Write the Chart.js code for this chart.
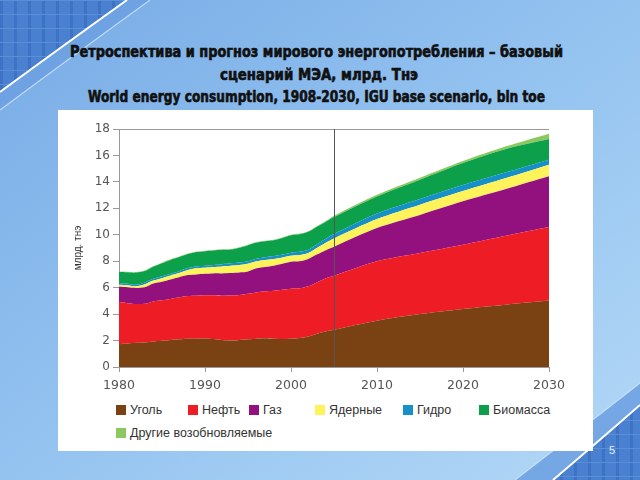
<!DOCTYPE html>
<html>
<head>
<meta charset="utf-8">
<script src="https://cdn.jsdelivr.net/npm/chart.js@4/dist/chart.umd.min.js"></script>
<style>
  html, body { margin:0; padding:0; width:640px; height:480px; overflow:hidden; }
  body { position:relative; font-family:"Liberation Sans", Arial, sans-serif; }
  #bg { position:absolute; left:0; top:0; }
  .t { position:absolute; white-space:nowrap; font-family:"DejaVu Sans Condensed","DejaVu Sans",sans-serif; font-weight:bold;
       font-size:15px; color:#111; -webkit-text-stroke:0.6px #111; line-height:16px; transform-origin:0 50%; }
  #panel { position:absolute; left:58px; top:110px; width:535px; height:341px; background:#fff; }
  #c { position:absolute; left:0; top:0; }
  .lg { position:absolute; font-size:12.5px; color:#333; white-space:nowrap; line-height:14px; }
  .lg i { display:inline-block; width:10px; height:10px; vertical-align:-1px; margin-right:4px; }
  #pg { position:absolute; left:609px; top:444px; color:#e8f0ff; font-size:11px; font-family:"Liberation Sans",Arial,sans-serif; }
</style>
</head>
<body>
<svg id="bg" width="640" height="480" xmlns="http://www.w3.org/2000/svg">
  <defs>
    <linearGradient id="g" x1="0" y1="0" x2="1" y2="1">
      <stop offset="0" stop-color="#78abe6"/>
      <stop offset="0.5" stop-color="#94c3f0"/>
      <stop offset="1" stop-color="#b3d8f6"/>
    </linearGradient>
    <pattern id="grid" width="14" height="14" patternUnits="userSpaceOnUse">
      <rect width="14" height="14" fill="#4a80d0"/>
      <rect x="0" y="0" width="3" height="14" fill="#3d72c4"/>
      <rect x="0" y="0" width="14" height="1" fill="#5a8fd8"/>
    </pattern>
  </defs>
  <rect width="640" height="480" fill="url(#g)"/>
  <path d="M0,0 L150,0 Q70,58 0,110 Z" fill="#6a9fe0" opacity="0.8"/>
  <path d="M0,0 L127,0 Q60,48 0,92 Z" fill="url(#grid)"/>
  <path d="M127,0 Q60,48 0,92" stroke="#ffffff" stroke-width="2" fill="none"/>
  <path d="M150,0 Q70,58 0,110" stroke="#cfe6fb" stroke-width="1.2" fill="none" opacity="0.8"/>
  <path d="M515,480 Q580,430 640,383 L640,480 Z" fill="#6a9fe0" opacity="0.85"/>
  <path d="M553,480 Q600,440 640,405 L640,480 Z" fill="url(#grid)"/>
  <path d="M553,480 Q600,440 640,405" stroke="#ffffff" stroke-width="2" fill="none"/>
  <path d="M515,480 Q580,430 640,383" stroke="#cfe6fb" stroke-width="1.2" fill="none" opacity="0.8"/>
</svg>

<div class="t" id="t1" style="top:44px;">Ретроспектива и прогноз мирового энергопотребления – базовый</div>
<div class="t" id="t2" style="top:67px;">сценарий МЭА, млрд. Тнэ</div>
<div class="t" id="t3" style="top:89px;">World energy consumption, 1908-2030, IGU base scenario, bln toe</div>

<div id="panel"><canvas id="c" width="535" height="290"></canvas></div>
<div id="legend"></div>
<div id="pg">5</div>

<script>
// ---- data (bln toe, individual layers, stacked) ----
const years = [1980,1981,1982,1983,1984,1985,1986,1987,1988,1989,1990,1991,1992,1993,1994,1995,1996,1997,1998,1999,2000,2001,2002,2003,2004,2005,2010,2015,2020,2025,2030];
const coal    = [1.73,1.78,1.83,1.86,1.93,1.98,2.04,2.09,2.14,2.14,2.16,2.11,2.04,2.00,2.05,2.09,2.14,2.17,2.14,2.12,2.14,2.19,2.31,2.52,2.69,2.82,3.50,4.00,4.39,4.71,5.02];
const oil     = [3.18,3.05,2.93,2.92,3.03,3.06,3.10,3.18,3.23,3.25,3.26,3.31,3.35,3.40,3.40,3.45,3.50,3.55,3.63,3.73,3.78,3.76,3.79,3.88,4.01,4.08,4.49,4.62,4.86,5.22,5.57];
const gas     = [1.15,1.20,1.22,1.25,1.35,1.40,1.48,1.52,1.58,1.61,1.63,1.66,1.69,1.70,1.70,1.69,1.82,1.84,1.89,1.96,2.04,2.04,2.07,2.10,2.12,2.20,2.52,2.88,3.28,3.53,3.83];
const nuclear = [0.17,0.15,0.12,0.23,0.23,0.28,0.30,0.31,0.38,0.46,0.45,0.48,0.53,0.56,0.57,0.58,0.53,0.53,0.51,0.48,0.46,0.48,0.45,0.50,0.56,0.62,0.68,0.78,0.78,0.83,0.88];
const hydro   = [0.12,0.12,0.12,0.13,0.13,0.14,0.14,0.15,0.15,0.15,0.16,0.16,0.17,0.18,0.18,0.19,0.20,0.21,0.22,0.22,0.23,0.24,0.25,0.27,0.30,0.33,0.41,0.42,0.45,0.43,0.38];
const biomass = [0.86,0.86,0.92,0.87,0.92,0.99,1.04,1.06,1.06,1.08,1.10,1.09,1.08,1.04,1.11,1.21,1.22,1.21,1.20,1.25,1.31,1.33,1.35,1.33,1.29,1.29,1.30,1.47,1.67,1.77,1.56];
const otherRen= [0.04,0.04,0.04,0.04,0.04,0.04,0.04,0.04,0.04,0.04,0.04,0.04,0.04,0.04,0.04,0.04,0.04,0.04,0.04,0.04,0.05,0.05,0.05,0.05,0.05,0.10,0.13,0.15,0.15,0.20,0.41];

const seriesNames = ["Уголь","Нефть","Газ","Ядерные","Гидро","Биомасса","Другие возобновляемые"];
const seriesColors = ["#7a4113","#ee1c25","#93117e","#fff35b","#1590c8","#0ca04a","#8cc860"];
const seriesData = [coal, oil, gas, nuclear, hydro, biomass, otherRen];

const xTicks = [1980,1990,2000,2010,2020,2030];
const yTicks = [0,2,4,6,8,10,12,14,16,18];
const yTitle = "млрд. тнэ";
const markerYear = 2005;

// fit title lines to the reference's widths (left, width)
[["t1",70,493],["t2",220,198],["t3",88,457]].forEach(([id, left, w]) => {
  const el = document.getElementById(id);
  const nat = el.getBoundingClientRect().width;
  el.style.left = left + 'px';
  el.style.transform = 'scaleX(' + (w / nat) + ')';
});

const datasets = seriesData.map((arr, i) => ({
  label: seriesNames[i],
  data: arr.map((v, k) => ({x: years[k], y: v})),
  backgroundColor: seriesColors[i],
  borderColor: seriesColors[i],
  borderWidth: 0,
  pointRadius: 0,
  tension: 0.3,
  fill: i === 0 ? 'origin' : '-1'
}));

const overlay = {
  id: 'overlay',
  afterDatasetsDraw(chart) {
    const {ctx, chartArea: a, scales: {x}} = chart;
    ctx.save();
    ctx.strokeStyle = '#9a9a9a';
    ctx.lineWidth = 1;
    ctx.beginPath();
    ctx.moveTo(a.left, a.top + 0.5);
    ctx.lineTo(a.right, a.top + 0.5);
    ctx.stroke();
    const px = Math.round(x.getPixelForValue(markerYear)) + 0.5;
    ctx.strokeStyle = '#555';
    ctx.beginPath();
    ctx.moveTo(px, a.top);
    ctx.lineTo(px, a.bottom);
    ctx.stroke();
    ctx.restore();
  }
};

const chart = new Chart(document.getElementById('c'), {
  type: 'line',
  data: { datasets },
  options: {
    responsive: false,
    animation: false,
    devicePixelRatio: 1,
    layout: { padding: { top: 19, right: 44, left: 0, bottom: 0 } },
    plugins: { legend: { display: false }, tooltip: { enabled: false } },
    scales: {
      x: {
        type: 'linear', min: 1980, max: 2030,
        afterBuildTicks: s => { s.ticks = xTicks.map(v => ({value: v})); },
        afterFit: s => { s.height = 33; },
        ticks: { color: '#555', font: { family: 'DejaVu Sans', size: 12.5 }, padding: 6, maxRotation: 0,
                 callback: v => String(v) },
        grid: { drawOnChartArea: false, drawTicks: true, tickLength: 5, color: '#999' },
        border: { color: '#999' }
      },
      y: {
        stacked: true, min: 0, max: 18,
        afterBuildTicks: s => { s.ticks = yTicks.map(v => ({value: v})); },
        afterFit: s => { s.width = 61; },
        ticks: { color: '#555', font: { family: 'DejaVu Sans', size: 12 }, padding: 3 },
        grid: { drawOnChartArea: false, drawTicks: true, tickLength: 6, color: '#999' },
        border: { color: '#999' },
        title: { display: true, text: yTitle, color: '#333',
                 font: { family: 'Liberation Sans', size: 10 }, padding: { top: 14, bottom: 0 } }
      }
    }
  },
  plugins: [overlay]
});

// HTML legend built from the chart's datasets
const legendPos = [[116,403],[188,403],[249,403],[315,403],[403,403],[479,403],[116,426]];
const lg = document.getElementById('legend');
chart.data.datasets.forEach((ds, i) => {
  const d = document.createElement('div');
  d.className = 'lg';
  d.style.left = legendPos[i][0] + 'px';
  d.style.top = legendPos[i][1] + 'px';
  const b = document.createElement('i');
  b.style.background = ds.backgroundColor;
  d.appendChild(b);
  d.appendChild(document.createTextNode(ds.label));
  lg.appendChild(d);
});
</script>
</body>
</html>
